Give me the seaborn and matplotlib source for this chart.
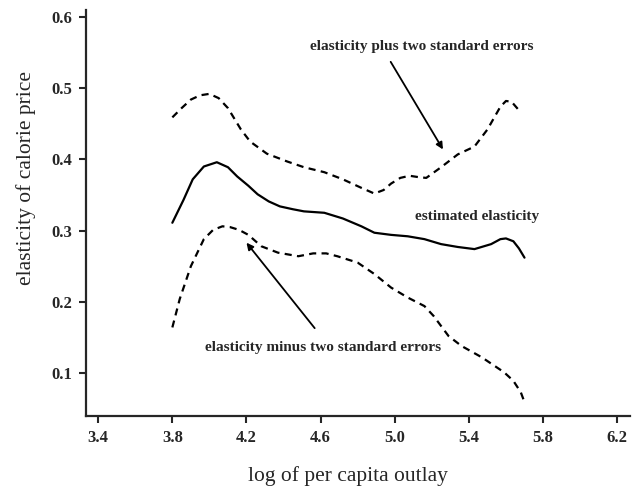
import matplotlib
matplotlib.use("Agg")
import matplotlib.pyplot as plt
import seaborn as sns

# values
est_x = [3.80, 3.86, 3.91, 3.97, 4.04, 4.10, 4.15, 4.21, 4.26, 4.32, 4.38, 4.45, 4.51, 4.62, 4.72, 4.82, 4.89, 4.98, 5.07, 5.16, 5.25, 5.34, 5.43, 5.52, 5.57, 5.60, 5.64, 5.67, 5.70]
est_y = [0.311, 0.343, 0.372, 0.390, 0.396, 0.389, 0.376, 0.363, 0.351, 0.341, 0.334, 0.330, 0.327, 0.325, 0.317, 0.306, 0.297, 0.294, 0.292, 0.288, 0.281, 0.277, 0.274, 0.281, 0.288, 0.289, 0.285, 0.275, 0.262]

upper_x = [3.80, 3.85, 3.90, 3.95, 4.00, 4.05, 4.10, 4.17, 4.22, 4.31, 4.42, 4.51, 4.62, 4.72, 4.82, 4.89, 4.94, 4.98, 5.03, 5.08, 5.13, 5.17, 5.25, 5.34, 5.43, 5.50, 5.57, 5.60, 5.63, 5.68]
upper_y = [0.459, 0.472, 0.484, 0.490, 0.492, 0.486, 0.472, 0.442, 0.425, 0.408, 0.397, 0.389, 0.382, 0.372, 0.360, 0.352, 0.357, 0.366, 0.374, 0.377, 0.375, 0.374, 0.389, 0.407, 0.418, 0.442, 0.474, 0.482, 0.481, 0.466]

lower_x = [3.80, 3.84, 3.90, 3.97, 4.02, 4.07, 4.11, 4.16, 4.21, 4.28, 4.37, 4.48, 4.56, 4.63, 4.69, 4.80, 4.89, 4.98, 5.07, 5.16, 5.21, 5.29, 5.36, 5.47, 5.59, 5.64, 5.68, 5.70]
lower_y = [0.164, 0.204, 0.250, 0.288, 0.301, 0.306, 0.305, 0.301, 0.294, 0.278, 0.269, 0.264, 0.268, 0.268, 0.264, 0.255, 0.239, 0.220, 0.206, 0.194, 0.180, 0.152, 0.138, 0.122, 0.101, 0.089, 0.073, 0.059]

x_ticks = [3.4, 3.8, 4.2, 4.6, 5.0, 5.4, 5.8, 6.2]
y_ticks = [0.1, 0.2, 0.3, 0.4, 0.5, 0.6]

sns.set_style("ticks")
plt.rcParams['font.family'] = ['Liberation Serif', 'DejaVu Serif']

fig = plt.figure(figsize=(6.43, 4.92), dpi=100)
ax = fig.add_axes([0.134, 0.155, 0.846, 0.825])

sns.lineplot(x=est_x, y=est_y, ax=ax, color='black', lw=1.6)
sns.lineplot(x=upper_x, y=upper_y, ax=ax, color='black', lw=1.6, linestyle=(0, (3.2, 2.4)))
sns.lineplot(x=lower_x, y=lower_y, ax=ax, color='black', lw=1.6, linestyle=(0, (3.2, 2.4)))

ax.set_xlim(3.335, 6.27)
ax.set_ylim(0.04, 0.61)
ax.set_xticks(x_ticks)
ax.set_yticks(y_ticks)
ax.set_xticklabels([f"{v:.1f}" for v in x_ticks], fontsize=12, fontweight='bold')
ax.set_yticklabels([f"{v:.1f}" for v in y_ticks], fontsize=12, fontweight='bold')
ax.tick_params(direction='out', length=5, width=1.5, pad=5)
sns.despine(ax=ax)
for s in ['left', 'bottom']:
    ax.spines[s].set_linewidth(1.6)

ax.set_xlabel("log of per capita outlay", fontsize=15.5)
ax.set_ylabel("elasticity of calorie price", fontsize=15.5)
ax.xaxis.set_label_coords(0.482, -0.125)
ax.yaxis.set_label_coords(-0.092, 0.586)

ann = dict(fontsize=11, fontweight='bold', ha='center', va='center')
arrow = dict(arrowstyle='-|>', color='black', lw=1.3, shrinkA=0, shrinkB=0, mutation_scale=10)
ax.text(5.146, 0.558, "elasticity plus two standard errors", **ann)
ax.annotate("", xy=(5.26, 0.414), xytext=(4.978, 0.537), arrowprops=arrow)
ax.text(5.443, 0.320, "estimated elasticity", **ann)
ax.text(4.611, 0.136, "elasticity minus two standard errors", **ann)
ax.annotate("", xy=(4.20, 0.283), xytext=(4.568, 0.163), arrowprops=arrow)

fig.savefig("out.png", dpi=100)
